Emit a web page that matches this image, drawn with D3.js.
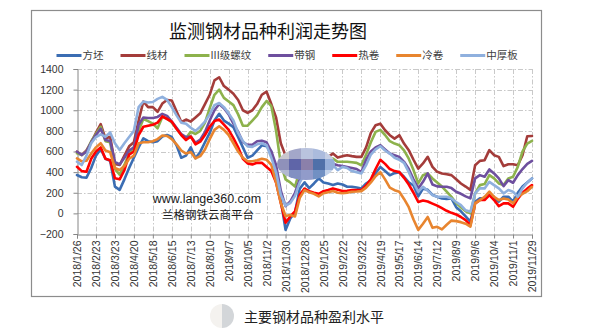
<!DOCTYPE html>
<html>
<head>
<meta charset="utf-8">
<script src="https://cdn.jsdelivr.net/npm/d3@7"></script>
<style>
  html, body { margin: 0; padding: 0; background: #fff; }
  svg { display: block; }
</style>
</head>
<body>
<svg id="chart" width="608" height="335"></svg>
<script>
// Weekly profit per tonne for monitored steel products, 2018/1/26 – 2019/11/29
const tickLabels = [
  "2018/1/26","2018/2/23","2018/3/23","2018/4/20","2018/5/18","2018/6/15","2018/7/13",
  "2018/8/10","2018/9/7","2018/10/5","2018/11/2","2018/11/30","2018/12/28","2019/1/25",
  "2019/2/22","2019/3/22","2019/4/19","2019/5/17","2019/6/14","2019/7/12","2019/8/9",
  "2019/9/6","2019/10/4","2019/11/1","2019/11/29"
];
const seriesNames = ["方坯", "线材", "III级螺纹", "带钢", "热卷", "冷卷", "中厚板"];
const yTicks = [-200, 0, 200, 400, 600, 800, 1000, 1200, 1400];

const billet = [
  372, 350, 346, 440, 560, 625, 530, 510, 260, 228,
  330, 440, 540, 640, 727, 700, 690, 700, 745, 760,
  740, 660, 540, 560, 640, 535, 596, 690, 780, 900,
  965, 900, 870, 835, 740, 640, 540, 560, 610, 660,
  650, 600, 390, 130, -160, -50, 10, 240, 300, 245,
  290, 340, 300, 290, 275, 290, 280, 258, 258, 250,
  242, 290, 320, 390, 450, 410, 370, 390, 400, 355,
  300, 270, 165, 240, 228, 180, 160, 145, 140, 145,
  60, 20, -30, -80, 113, 145, 145, 177, 145, 113,
  161, 161, 113, 200, 260, 300, 339
];
const wireRod = [
  598, 566, 610, 690, 780, 866, 727, 743, 480, 469,
  560, 650, 690, 900, 1085, 1030, 1030, 985, 1065, 1100,
  1095, 990, 885, 910, 890, 930, 970, 1060, 1150, 1290,
  1320, 1235, 1200, 1160, 1100, 1000, 975, 1000, 1060, 1150,
  1180, 1060, 930, 680, 560, 500, 480, 490, 510, 520,
  530, 540, 545, 548, 580, 541, 555, 564, 555, 548,
  548, 640, 780, 854, 870, 806, 758, 725, 758, 677,
  613, 520, 435, 484, 548, 451, 403, 387, 380, 371,
  330, 290, 260, 226, 467, 509, 516, 613, 564, 548,
  458, 477, 477, 467, 564, 748, 750
];
const rebar = [
  582, 566, 600, 700, 770, 840, 700, 690, 430, 375,
  470, 580, 640, 800, 915, 895, 870, 825, 935, 920,
  880, 820, 760, 730, 790, 770, 800, 880, 1020, 1150,
  1200, 1120, 1085, 1050, 960, 850, 850, 900, 950, 1030,
  1090, 1040, 800, 480, 330, 300, 260, 420, 470, 490,
  500, 510, 520, 516, 532, 500, 500, 500, 495, 490,
  467, 570, 690, 790, 810, 760, 700, 677, 661, 610,
  530, 420, 290, 370, 387, 339, 300, 260, 210, 160,
  100, 60, 20, 0, 193, 274, 284, 371, 339, 290,
  274, 339, 355, 451, 600, 677, 703
];
const stripSteel = [
  598, 566, 600, 690, 760, 820, 711, 701, 500, 475,
  540, 610, 640, 860, 930, 925, 925, 935, 965, 945,
  890, 830, 770, 740, 745, 685, 715, 790, 900, 1000,
  1060, 1020, 960, 870, 790, 690, 665, 665, 700, 705,
  690, 600, 470, 220, 70, 115, 200, 330, 420, 460,
  480, 490, 490, 484, 480, 467, 460, 450, 440, 430,
  400, 520, 600, 640, 661, 620, 580, 564, 548, 500,
  430, 330, 242, 306, 387, 280, 262, 258, 258, 245,
  210, 190, 165, 145, 339, 371, 355, 426, 387, 339,
  264, 322, 297, 371, 430, 480, 509
];
const hotCoil = [
  452, 410, 404, 530, 600, 640, 530, 515, 340, 330,
  420, 570, 600, 760, 840, 850, 860, 880, 940, 915,
  890, 820, 760, 711, 745, 670, 695, 760, 840, 895,
  910, 860, 810, 730, 640, 530, 485, 475, 490, 490,
  450, 410, 300, 100, -90, -30, 20, 180, 240, 215,
  200, 190, 215, 226, 242, 230, 216, 220, 226, 226,
  226, 270, 330, 430, 520, 480, 430, 410, 400, 345,
  280, 200, 110, 125, 115, 95, 75, 50, 25, 5,
  -10, -35, -65, -115, 97, 129, 129, 177, 130, 70,
  97, 97, 64, 140, 200, 240, 274
];
const coldCoil = [
  533, 505, 510, 580, 640, 680, 610, 592, 440, 420,
  460, 530, 560, 680, 690, 690, 700, 720, 755, 750,
  720, 670, 610, 580, 595, 533, 555, 620, 720, 810,
  845, 810, 760, 680, 600, 540, 505, 505, 515, 530,
  520, 470, 300, 100, -25, -15, -30, 150, 225, 205,
  190, 165, 195, 205, 216, 200, 195, 200, 210, 212,
  216, 250, 300, 360, 400, 330, 250, 225, 210, 140,
  60, -60, -160, -100, -35, -140, -130, -155, -110, -70,
  -75, -85, -100, -129, 97, 129, 161, 210, 161, 129,
  145, 135, 97, 161, 190, 215, 258
];
const plate = [
  501, 469, 560, 680, 740, 766, 743, 785, 679, 614,
  680, 740, 800, 1030, 1085, 1075, 1080, 1110, 1130, 1100,
  1030, 950, 880, 870, 830, 800, 840, 890, 960, 1050,
  1070, 1030, 970, 900, 780, 700, 650, 645, 670, 680,
  660, 540, 400, 180, 75, 100, 170, 300, 380, 420,
  440, 450, 455, 451, 467, 419, 451, 440, 410, 400,
  387, 467, 570, 620, 651, 610, 580, 540, 520, 490,
  400, 300, 210, 258, 220, 177, 161, 161, 161, 145,
  110, 80, 30, 16, 193, 242, 242, 306, 274, 242,
  193, 226, 210, 161, 242, 300, 339
];

const seriesValues = [billet, wireRod, rebar, stripSteel, hotCoil, coldCoil, plate];
const seriesColors = ["#3b6db3", "#a43c3a", "#8db24c", "#6e4f9e", "#ff0000", "#e8852f", "#8fb0de"];

// Shades for the pixelated patch over the plot
const mosaicShades = [
  "#c9c7ce", "#a3a7c9", "#b9c3de", "#abbbdd", "#c4cee4",
  "#8f91ba", "#5f65a8", "#8b80aa", "#4f70a9", "#95aed9",
  "#b2b9d1", "#8290c2", "#919bca", "#7190c3", "#c3d2ea"
];

const svg = d3.select("#chart");
const numFont = "'Liberation Sans', Arial, sans-serif";
const cjkFont = "'Noto Sans CJK SC', 'Noto Sans', sans-serif";

const plotL = 77, plotR = 532, plotT = 69, plotB = 234;
const n = billet.length;
const x = d3.scaleLinear().domain([0, n - 1]).range([plotL, plotR]);
const y = d3.scaleLinear().domain([-200, 1400]).range([plotB, plotT]);

// Chart frame
svg.append("rect")
  .attr("x", 31.5).attr("y", 10.5).attr("width", 510).attr("height", 286)
  .attr("fill", "#fff").attr("stroke", "#8c8c8c").attr("stroke-width", 1.2);

// Title
svg.append("text")
  .attr("x", 268).attr("y", 38)
  .attr("text-anchor", "middle")
  .attr("font-family", cjkFont).attr("font-size", 18)
  .attr("fill", "#111")
  .text("监测钢材品种利润走势图");

// Legend
const legend = svg.append("g").attr("transform", "translate(56.5,55.5)");
let lx = 0;
seriesNames.forEach((name, i) => {
  const g = legend.append("g").attr("transform", `translate(${lx},0)`);
  g.append("line").attr("x1", 0).attr("x2", 25).attr("y1", 0).attr("y2", 0)
    .attr("stroke", seriesColors[i]).attr("stroke-width", 3);
  const t = g.append("text").attr("x", 26).attr("y", 3.8)
    .attr("font-family", cjkFont).attr("font-size", 10.5).attr("fill", "#404040")
    .text(name);
  lx += 26 + t.node().getComputedTextLength() + 17;
});

// Gridlines
const grid = svg.append("g").attr("stroke", "#c9c9c9").attr("stroke-width", 1)
  .attr("stroke-dasharray", "5,2,1.5,2");
yTicks.filter(v => v > -200).forEach(v => {
  grid.append("line").attr("x1", plotL).attr("x2", plotR)
    .attr("y1", Math.round(y(v)) + 0.5).attr("y2", Math.round(y(v)) + 0.5);
});
const xTickIdx = tickLabels.map((_, i) => i * 4);
xTickIdx.filter(i => i > 0).forEach(i => {
  grid.append("line").attr("y1", plotT).attr("y2", plotB)
    .attr("x1", Math.round(x(i)) + 0.5).attr("x2", Math.round(x(i)) + 0.5);
});

// Axes
const yAxis = svg.append("g").attr("transform", `translate(${plotL + 0.5},0)`)
  .call(d3.axisLeft(y).tickValues(yTicks).tickSize(4).tickPadding(10).tickFormat(d3.format("d")));
yAxis.selectAll("path, line").attr("stroke", "#868686");
yAxis.selectAll("text").attr("font-family", numFont).attr("font-size", 10.5).attr("fill", "#333");

const xAxis = svg.append("g").attr("transform", `translate(0,${plotB + 0.5})`)
  .call(d3.axisBottom(x).tickValues(xTickIdx).tickSize(4).tickFormat((d, i) => tickLabels[i]));
xAxis.select(".domain").attr("stroke", "#868686");
xAxis.selectAll("line").attr("stroke", "#868686");
xAxis.selectAll("text")
  .attr("font-family", numFont).attr("font-size", 10.5).attr("fill", "#333")
  .attr("transform", "rotate(-90)")
  .attr("x", -6).attr("y", 0).attr("dy", "0.35em")
  .attr("text-anchor", "end");

// Watermark text
svg.append("text").attr("x", 207).attr("y", 202.5).attr("text-anchor", "middle")
  .attr("font-family", numFont).attr("font-size", 12.5).attr("fill", "#1a1a1a")
  .text("www.lange360.com");
svg.append("text").attr("x", 208).attr("y", 219).attr("text-anchor", "middle")
  .attr("font-family", cjkFont).attr("font-size", 11.5).attr("fill", "#1a1a1a")
  .text("兰格钢铁云商平台");

// Series lines
const line = d3.line().x((d, i) => x(i)).y(d => y(d));
const lines = svg.append("g").attr("fill", "none")
  .attr("stroke-width", 2.6).attr("stroke-linejoin", "round").attr("stroke-linecap", "round");
seriesValues.forEach((vals, i) => {
  lines.append("path").datum(vals).attr("d", line).attr("stroke", seriesColors[i]);
});

// Pixelated patch
const defs = svg.append("defs");
defs.append("clipPath").attr("id", "patchClip")
  .append("ellipse").attr("cx", 306).attr("cy", 164).attr("rx", 29).attr("ry", 16);
const patch = svg.append("g").attr("clip-path", "url(#patchClip)");
const cols = 5, cellW = 12, cellH = 11;
mosaicShades.forEach((c, k) => {
  patch.append("rect")
    .attr("x", 277 + (k % cols) * cellW).attr("y", 148 + Math.floor(k / cols) * cellH)
    .attr("width", cellW).attr("height", cellH).attr("fill", c);
});

// Caption below the chart
const cap = svg.append("g");
cap.append("path").attr("d", d3.arc()({innerRadius: 0, outerRadius: 12, startAngle: Math.PI, endAngle: 2 * Math.PI}))
  .attr("transform", "translate(222,316)").attr("fill", "#f4f2ef");
cap.append("path").attr("d", d3.arc()({innerRadius: 0, outerRadius: 12, startAngle: 0, endAngle: Math.PI}))
  .attr("transform", "translate(222,316)").attr("fill", "#d3d6d9");
cap.append("text").attr("x", 314).attr("y", 322).attr("text-anchor", "middle")
  .attr("font-family", cjkFont).attr("font-size", 14).attr("fill", "#222")
  .text("主要钢材品种盈利水平");
</script>
</body>
</html>
